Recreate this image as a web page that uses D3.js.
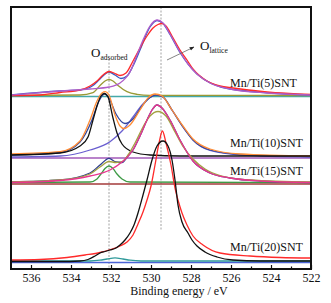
<!DOCTYPE html>
<html>
<head>
<meta charset="utf-8">
<script src="https://cdn.jsdelivr.net/npm/d3@7"></script>
<style>
  body { margin: 0; background: #fff; }
  text { font-family: "Liberation Serif", "Times New Roman", serif; fill: #111; }
</style>
</head>
<body>
<svg id="drawing_region"></svg>
<script>
// binding energy (eV), intensity (a.u.)
const ticksMajor = [536, 534, 532, 530, 528, 526, 524, 522];
const ticksMinor = [535, 533, 531, 529, 527, 525, 523];
const refAdsorbed = 532.1;
const refLattice = 529.5;
const sampleNames = ['Mn/Ti(5)SNT', 'Mn/Ti(10)SNT', 'Mn/Ti(15)SNT', 'Mn/Ti(20)SNT'];

// Mn/Ti(5)SNT
const s5_base = [[537,172.5],[522,172.5]];
const s5_ads = [[537,173.5],[533.55,174],[532.9,176.3],[532.55,183.5],[532.3,188],[532.1,189.5],[531.9,188],[531.65,183.5],[531.2,177.3],[530.7,174.7],[530.05,173.7],[522,173.5]];
const s5_fit = [[537,174],[534.55,178],[533.55,179],[532.9,183.5],[532.55,190],[532.1,197],[531.8,194],[531.5,190.5],[531.2,193],[530.9,203],[530.55,219],[530.05,242],[529.7,248.5],[529.4,245.5],[529.05,234.5],[528.55,216.5],[527.7,195],[526.05,180],[522,174]];
const s5_exp = [[537,173.5],[535.55,174],[534.55,176.5],[533.55,179],[533.05,183],[532.7,188],[532.4,194],[532.1,197.5],[531.85,196],[531.55,193.5],[531.25,196],[530.9,208],[530.55,221],[530.2,233],[529.9,241],[529.65,244.5],[529.45,245.5],[529.25,243],[528.95,233],[528.55,219],[528.2,209],[527.9,200],[527.2,188],[526.55,183],[525.9,181],[524.2,177],[522,174.5]];
const s5_lat = [[537,174],[534.55,178],[533.05,180],[532.1,182],[531.55,186],[531.05,197],[530.7,214],[530.4,229],[530.05,243],[529.7,249],[529.4,246],[529.05,235],[528.55,217],[528.15,205],[527.7,195],[527.05,186],[526.05,180],[524.2,176],[522,174]];

// Mn/Ti(10)SNT
const s10_base = [[537,111],[522,111]];
const s10_lat = [[537,112],[534.55,113],[533.05,119],[532.05,127.3],[531.45,138],[530.9,152],[530.45,164],[530.05,171.5],[529.75,174],[529.4,172],[528.95,159],[528.4,142],[527.9,129],[527.05,118.5],[525.55,114],[522,112]];
const s10_fit = [[537,114],[534.55,116.5],[533.55,127],[532.95,149],[532.6,168],[532.33,175],[532.1,171],[531.75,155],[531.3,145.5],[530.9,150],[530.45,163],[530.05,171.5],[529.75,174],[529.4,172],[528.95,159],[528.4,142],[527.9,129],[527.05,119],[525.55,114.5],[522,112.5]];
const s10_exp = [[537,115],[534.55,117.3],[533.55,128],[533.05,149],[532.7,168],[532.45,176],[532.28,177.3],[532.1,174],[531.8,154],[531.55,143],[531.35,140.5],[531.05,144],[530.55,159],[530.15,171],[529.8,175],[529.45,173],[528.95,159],[528.4,143],[527.9,130],[527.05,120],[525.55,115],[522,113]];
const s10_ads = [[537,114],[534.55,116],[533.55,123],[533.15,132],[532.9,149],[532.7,163],[532.5,173],[532.33,175.5],[532.15,172],[531.9,151],[531.7,136],[531.45,125],[530.9,117],[530.05,114],[528.55,113],[522,113]];

// Mn/Ti(15)SNT
const s15_base = [[537,85],[522,85]];
const s15_ads = [[537,86.5],[533.05,87],[532.7,90],[532.5,95],[532.3,100.5],[532.1,103],[531.9,100.5],[531.7,95],[531.45,90],[531.05,87],[522,86.3]];
const s15_fit = [[537,87],[534.55,89],[533.05,96],[532.55,104],[532.1,110.7],[531.75,107],[531.45,106.5],[531.15,113],[530.9,119],[530.55,133],[530.2,149],[529.95,159],[529.7,164],[529.45,161],[529.05,149],[528.55,129],[527.9,108],[527.05,96],[526.05,91],[524.55,88],[522,86.5]];
const s15_exp = [[537,87],[534.55,89],[533.05,95],[532.55,102],[532.1,107.5],[531.75,106.5],[531.45,107.5],[531.15,114],[530.8,126],[530.4,142],[530.05,153],[529.65,157.5],[529.25,153],[528.8,137],[528.4,122.5],[527.9,110],[527.3,100],[526.55,93.5],[525.05,89],[522,87]];
const s15_lat = [[537,86.5],[534.55,88.5],[533.05,93],[532.05,99],[531.45,107],[530.9,119],[530.55,133],[530.2,149],[529.95,159],[529.7,164],[529.45,161],[529.05,149],[528.55,129],[527.9,108],[527.05,96],[526.05,91],[524.55,88],[522,86.5]];

// Mn/Ti(20)SNT
const s20_base = [[537,6.5],[522,6.5]];
const s20_ads = [[537,8],[533.05,8],[532.55,8.8],[532.2,10],[531.8,11.2],[531.4,10],[531.05,8.8],[530.5,8],[522,8]];
const s20_fit = [[537,9],[535.55,9.5],[534.2,11.5],[533.3,14],[532.55,16.5],[531.95,20],[531.55,23],[531.2,27],[530.9,34],[530.65,45],[530.4,57],[530.2,69],[530,83],[529.8,104],[529.6,126],[529.43,138],[529.25,126],[529,104],[528.8,81],[528.65,69],[528.45,56],[528.2,44],[527.9,33],[527.4,24],[526.55,16],[525.05,13],[523.55,11.5],[522,11]];
const s20_exp = [[537,7.5],[534.55,7.5],[533.55,8],[533.15,9.5],[532.8,13],[532.55,16],[532.3,17.5],[532.05,19],[531.8,20.5],[531.55,24],[531.3,29],[531.05,36],[530.85,44],[530.65,56],[530.4,74],[530.2,89],[529.95,109],[529.7,123],[529.4,128],[529.15,123],[528.95,109],[528.8,89],[528.65,64],[528.45,47],[528.15,36],[527.95,29],[527.7,23],[527.3,17],[526.7,12],[525.9,9],[524.55,8],[522,8]];

class XpsChart {

    constructor( config, curves ) {
        this.config = config;
        this.curves = curves;
        this.init();
    }

    init() {
        let self = this;
        const m = self.config.margin;

        self.svg = d3.select( self.config.parent )
            .attr('width', self.config.width)
            .attr('height', self.config.height);

        self.inner_width = self.config.width - m.left - m.right;
        self.inner_height = self.config.height - m.top - m.bottom;

        self.chart = self.svg.append('g')
            .attr('transform', `translate(${m.left}, ${m.top})`);

        self.xscale = d3.scaleLinear()
            .domain([537, 522])
            .range([0, self.inner_width]);

        self.yscale = d3.scaleLinear()
            .domain([0, 262])
            .range([self.inner_height, 0]);

        self.line = d3.line()
            .x( d => self.xscale(d[0]) )
            .y( d => self.yscale(d[1]) )
            .curve( d3.curveMonotoneX );
    }

    render() {
        let self = this;
        const H = self.inner_height;

        // guide lines
        self.chart.append('line')
            .attr('x1', self.xscale(refAdsorbed)).attr('x2', self.xscale(refAdsorbed))
            .attr('y1', 52).attr('y2', H)
            .attr('stroke', '#8a8a8a').attr('stroke-width', 0.8)
            .attr('stroke-dasharray', '2,1.5');
        self.chart.append('line')
            .attr('x1', self.xscale(refLattice)).attr('x2', self.xscale(refLattice))
            .attr('y1', 0).attr('y2', 223)
            .attr('stroke', '#8a8a8a').attr('stroke-width', 0.8)
            .attr('stroke-dasharray', '2,1.5');

        self.chart.selectAll('path.curve')
            .data(self.curves)
            .enter()
            .append('path')
            .attr('class', 'curve')
            .attr('d', d => self.line(d.values))
            .attr('fill', 'none')
            .attr('stroke', d => d.color)
            .attr('stroke-width', 1.3);

        // axes
        const xaxis = d3.axisBottom( self.xscale )
            .tickValues(ticksMajor).tickSize(-4).tickPadding(4);
        const xaxis_minor = d3.axisBottom( self.xscale )
            .tickValues(ticksMinor).tickSize(-2.5).tickFormat('');

        const ag = self.chart.append('g')
            .attr('transform', `translate(0, ${H})`)
            .call(xaxis);
        ag.select('.domain').remove();
        ag.selectAll('line').attr('stroke', '#111').attr('stroke-width', 1.2);
        ag.selectAll('text').attr('font-size', 12)
            .attr('font-family', '"Liberation Serif", serif').attr('fill', '#111');

        const mg = self.chart.append('g')
            .attr('transform', `translate(0, ${H})`)
            .call(xaxis_minor);
        mg.select('.domain').remove();
        mg.selectAll('line').attr('stroke', '#111').attr('stroke-width', 1.2);

        self.chart.append('rect')
            .attr('x', 0).attr('y', 0)
            .attr('width', self.inner_width).attr('height', H)
            .attr('fill', 'none').attr('stroke', '#111').attr('stroke-width', 2);

        self.chart.append('text')
            .attr('x', 168).attr('y', H + 26)
            .attr('text-anchor', 'middle')
            .attr('font-size', 12)
            .text('Binding energy / eV');

        // sample labels
        const label_y = [80, 140, 168, 244];
        sampleNames.forEach( (name, i) => {
            self.chart.append('text')
                .attr('x', 219).attr('y', label_y[i])
                .attr('font-size', 12)
                .text(name);
        });

        // O annotations
        const oa = self.chart.append('text').attr('x', 80).attr('y', 50).attr('font-size', 13);
        oa.append('tspan').text('O');
        oa.append('tspan').attr('font-size', 7.5).attr('dy', 3).text('adsorbed');

        const ol = self.chart.append('text').attr('x', 189).attr('y', 43).attr('font-size', 13);
        ol.append('tspan').text('O');
        ol.append('tspan').attr('font-size', 7.5).attr('dy', 3).text('lattice');

        self.svg.append('defs').append('marker')
            .attr('id', 'arrow')
            .attr('viewBox', '0 0 10 10')
            .attr('refX', 9).attr('refY', 5)
            .attr('markerWidth', 6).attr('markerHeight', 6)
            .attr('orient', 'auto')
            .append('path')
            .attr('d', 'M0,1 L10,5 L0,9 Z')
            .attr('fill', '#222');

        self.chart.append('line')
            .attr('x1', 156).attr('y1', 53)
            .attr('x2', 183).attr('y2', 40)
            .attr('stroke', '#666').attr('stroke-width', 0.8)
            .attr('marker-end', 'url(#arrow)');
    }
}

const curves = [
    {values: s5_base, color: '#45a9a9'},
    {values: s5_ads, color: '#9a9a35'},
    {values: s5_fit, color: '#3b5bc4'},
    {values: s5_exp, color: '#ff2a2a'},
    {values: s5_lat, color: '#b05cc8'},

    {values: s10_base, color: '#a25ab8'},
    {values: s10_lat, color: '#6a5fd0'},
    {values: s10_fit, color: '#34479e'},
    {values: s10_exp, color: '#ff8c35'},
    {values: s10_ads, color: '#111111'},

    {values: s15_base, color: '#a33a3a'},
    {values: s15_ads, color: '#3d9a45'},
    {values: s15_fit, color: '#2e3d8f'},
    {values: s15_exp, color: '#a3a040'},
    {values: s15_lat, color: '#e8368f'},

    {values: s20_base, color: '#4a63d6'},
    {values: s20_ads, color: '#2f9a9a'},
    {values: s20_fit, color: '#ff2a2a'},
    {values: s20_exp, color: '#111111'}
];

const config = {
    parent: '#drawing_region',
    width: 331,
    height: 303,
    margin: {top: 7, right: 20, bottom: 34, left: 11}
};

const chart = new XpsChart( config, curves );
chart.render();
</script>
</body>
</html>
